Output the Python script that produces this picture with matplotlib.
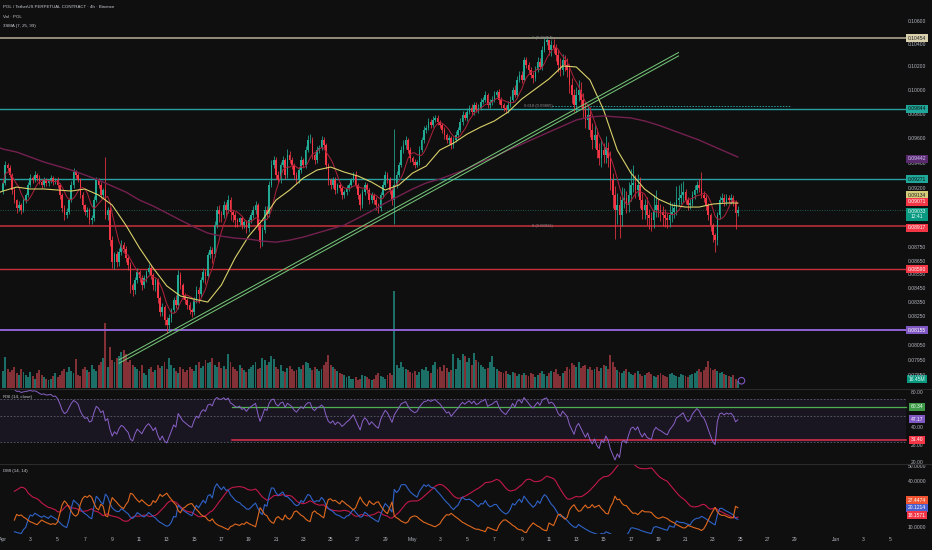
import numpy as np
import pandas as pd
import matplotlib
matplotlib.use("Agg")
import matplotlib.pyplot as plt
from matplotlib.transforms import blended_transform_factory as blend
from matplotlib.ticker import NullLocator

# ---------------- data (prices in 1e-5 USDT, 4h candles from Apr 1 00:00) ----------------
first_open = 9180
closes = [
    9242, 9385, 9361, 9306, 9188, 9110, 9048, 9071, 9033, 9110,
    9149, 9227, 9282, 9266, 9306, 9282, 9250, 9227, 9266, 9243,
    9258, 9282, 9250, 9266, 9227, 9149, 9048, 8994, 9018, 9110,
    9227, 9329, 9306, 9266, 9149, 9071, 9018, 9033, 8956, 8971,
    9110, 9266, 9227, 9149, 9188, 8994, 9033, 8805, 8643, 8700,
    8643, 8720, 8768, 8740, 8673, 8621, 8476, 8440, 8512, 8570,
    8526, 8476, 8526, 8570, 8599, 8548, 8476, 8510, 8380, 8283,
    8320, 8227, 8193, 8240, 8297, 8368, 8330, 8548, 8476, 8404,
    8368, 8332, 8297, 8283, 8368, 8440, 8410, 8512, 8570, 8540,
    8695, 8732, 8700, 8918, 9033, 9000, 8994, 9071, 9033, 9110,
    9018, 8994, 8956, 8941, 8971, 8918, 8941, 8896, 8956, 8994,
    9033, 9071, 8918, 8790, 8881, 9033, 9000, 9227, 9385, 9425,
    9306, 9266, 9385, 9425, 9306, 9465, 9425, 9385, 9306, 9266,
    9345, 9425, 9385, 9505, 9586, 9586, 9465, 9425, 9505, 9521,
    9586, 9545, 9385, 9266, 9227, 9266, 9188, 9227, 9204, 9149,
    9172, 9204, 9227, 9266, 9306, 9227, 9149, 9071, 9172, 9227,
    9188, 9110, 9149, 9110, 9071, 9048, 9149, 9227, 9306, 9266,
    9188, 9110, 9227, 9306, 9385, 9505, 9545, 9586, 9505, 9441,
    9409, 9385, 9409, 9505, 9586, 9668, 9684, 9734, 9709, 9751,
    9768, 9734, 9709, 9668, 9627, 9586, 9602, 9545, 9586, 9627,
    9668, 9734, 9792, 9768, 9817, 9851, 9817, 9876, 9834, 9851,
    9901, 9918, 9960, 9876, 9901, 9918, 9960, 9985, 9918, 9876,
    9851, 9834, 9876, 9918, 10002, 9960, 10088, 10131, 10088, 10261,
    10217, 10174, 10131, 10105, 10174, 10244, 10200, 10348, 10418, 10436,
    10348, 10392, 10365, 10304, 10217, 10174, 10261, 10217, 10174, 10045,
    9960, 9876, 9960, 10002, 9918, 9834, 9751, 9792, 9668, 9586,
    9627, 9505, 9441, 9505, 9465, 9521, 9441, 9266, 9149, 9033,
    9071, 8994, 9110, 9126, 9071, 9149, 9227, 9243, 9188, 9227,
    9110, 9033, 9071, 8994, 8971, 8956, 9033, 9071, 9033, 9018,
    8994, 8971, 8956, 8994, 9018, 9048, 9110, 9126, 9149, 9172,
    9110, 9071, 9087, 9149, 9188, 9227, 9204, 9149, 9126, 9071,
    8994, 8918, 8843, 8805, 8994, 9110, 9126, 9095, 9126, 9110,
    9126, 9087, 9010, 9033,
]
hi_wick = [
    20, 35, 18, 25, 15, 22, 12, 30, 18, 25,
    15, 20, 28, 14, 30, 18, 22, 15, 25, 20,
    18, 25, 15, 20, 22, 12, 18, 25, 30, 15,
    28, 35, 20, 15, 18, 25, 12, 20, 15, 22,
    30, 25, 18, 20, 15, 261, 25, 20, 30, 18,
    22, 30, 40, 25, 18, 15, 20, 12, 25, 30,
    18, 22, 25, 15, 30, 20, 12, 18, 15, 20,
    25, 15, 20, 30, 18, 25, 35, 40, 20, 15,
    18, 12, 20, 15, 25, 30, 18, 22, 28, 20,
    25, 30, 20, 35, 28, 40, 22, 30, 25, 38,
    20, 15, 22, 18, 12, 20, 15, 18, 25, 22,
    30, 35, 20, 15, 25, 30, 28, 35, 40, 30,
    22, 30, 25, 35, 20, 45, 30, 25, 18, 22,
    25, 30, 20, 35, 40, 50, 22, 18, 30, 25,
    35, 28, 20, 15, 18, 22, 25, 15, 20, 12,
    18, 22, 15, 20, 25, 30, 15, 12, 20, 25,
    15, 18, 22, 12, 20, 15, 25, 30, 28, 20,
    22, 18, 449, 30, 25, 35, 40, 30, 20, 25,
    18, 22, 15, 30, 28, 35, 25, 30, 22, 35,
    28, 25, 20, 18, 22, 15, 25, 20, 28, 30,
    25, 30, 35, 28, 30, 22, 35, 25, 28, 30,
    30, 25, 38, 20, 28, 35, 30, 17, 22, 25,
    20, 25, 30, 35, 28, 40, 30, 35, 38, 30,
    25, 30, 22, 28, 35, 40, 30, 35, 36, 18,
    0, 45, 50, 40, 55, 60, 50, 45, 60, 50,
    60, 55, 70, 90, 65, 55, 60, 90, 65, 55,
    85, 60, 55, 90, 60, 95, 50, 60, 55, 70,
    90, 70, 100, 80, 55, 100, 130, 140, 65, 90,
    60, 55, 50, 65, 45, 50, 120, 120, 50, 45,
    45, 50, 40, 110, 70, 45, 110, 100, 90, 90,
    25, 20, 30, 35, 40, 28, 45, 126, 30, 22,
    20, 15, 18, 12, 25, 30, 35, 28, 30, 25,
    28, 20, 25, 30,
]
lo_wick = [
    25, 15, 20, 18, 30, 22, 35, 20, 28, 15,
    20, 18, 15, 25, 12, 20, 18, 22, 15, 25,
    20, 15, 22, 18, 25, 30, 28, 35, 20, 18,
    15, 20, 25, 18, 22, 30, 25, 35, 28, 30,
    18, 15, 20, 25, 22, 30, 35, 40, 45, 50,
    35, 30, 25, 20, 28, 40, 60, 45, 30, 25,
    28, 35, 20, 25, 18, 30, 35, 40, 30, 25,
    30, 35, 53, 40, 25, 20, 18, 22, 28, 30,
    25, 30, 28, 35, 20, 18, 60, 22, 18, 60,
    15, 20, 65, 22, 25, 60, 55, 25, 50, 22,
    60, 55, 50, 35, 22, 30, 25, 40, 28, 20,
    22, 28, 35, 44, 30, 25, 18, 20, 15, 22,
    30, 25, 20, 18, 28, 22, 25, 30, 35, 25,
    20, 25, 18, 22, 15, 20, 30, 28, 22, 25,
    18, 25, 30, 35, 28, 25, 30, 22, 25, 28,
    22, 25, 20, 18, 15, 25, 30, 35, 22, 20,
    25, 28, 22, 30, 35, 38, 22, 18, 15, 25,
    30, 40, 181, 20, 18, 15, 22, 30, 25, 28,
    25, 20, 18, 22, 15, 20, 25, 18, 22, 20,
    18, 25, 22, 28, 30, 25, 35, 30, 22, 18,
    20, 15, 22, 18, 25, 20, 28, 22, 18, 25,
    15, 20, 18, 25, 22, 28, 20, 18, 30, 25,
    28, 22, 25, 18, 20, 15, 22, 18, 25, 20,
    30, 35, 28, 40, 25, 20, 18, 22, 15, 25,
    45, 50, 40, 55, 60, 50, 45, 55, 60, 65,
    70, 60, 55, 50, 60, 65, 70, 75, 60, 70,
    65, 60, 55, 70, 60, 65, 70, 80, 100, 223,
    110, 174, 80, 65, 60, 55, 50, 55, 60, 50,
    60, 65, 70, 75, 80, 85, 60, 55, 50, 65,
    85, 70, 60, 55, 50, 45, 50, 45, 50, 55,
    30, 35, 28, 25, 30, 22, 28, 25, 30, 35,
    40, 45, 50, 88, 35, 30, 25, 28, 22, 25,
    30, 25, 121, 20,
]
volume_m = [
    40, 73, 45, 38, 42, 50, 35, 30, 44, 38,
    30, 25, 38, 28, 22, 35, 42, 30, 26, 20,
    18, 22, 28, 35, 25, 30, 40, 45, 38, 50,
    40, 35, 68, 30, 28, 45, 50, 42, 38, 55,
    45, 40, 55, 60, 70, 153, 50, 96, 65, 60,
    70, 75, 85, 90, 80, 60, 65, 55, 50, 45,
    40, 55, 35, 30, 45, 50, 38, 42, 55, 48,
    52, 60, 45, 70, 55, 48, 40, 35, 50, 45,
    38, 42, 50, 45, 40, 55, 60, 48, 52, 65,
    58, 62, 70, 55, 50, 60, 48, 52, 45, 80,
    60, 50, 45, 40, 55, 48, 42, 38, 45, 50,
    55, 60, 45, 48, 70, 65, 55, 60, 75, 68,
    50, 45, 55, 40, 38, 48, 52, 45, 40, 42,
    50, 45, 55, 60, 58, 48, 42, 50, 45, 40,
    45, 55, 60, 78, 55, 50, 45, 40, 35, 32,
    30, 25, 28, 22, 20, 25, 18, 22, 30, 28,
    25, 20, 18, 22, 30, 35, 28, 25, 20, 30,
    35, 30, 228, 55, 48, 60, 50, 45, 42, 38,
    35, 40, 30, 38, 45, 42, 50, 40, 35, 55,
    60, 45, 50, 40, 55, 48, 38, 42, 80, 45,
    70, 65, 80, 75, 60, 70, 55, 82, 65, 60,
    55, 50, 45, 48, 60, 75, 50, 45, 40, 38,
    35, 40, 32, 30, 38, 35, 28, 32, 30, 35,
    30, 28, 35, 32, 25, 30, 35, 40, 32, 28,
    35, 40, 38, 45, 32, 28, 35, 40, 50, 45,
    58, 55, 50, 60, 48, 52, 55, 45, 50, 42,
    45, 50, 40, 48, 55, 52, 45, 78, 60, 50,
    42, 38, 35, 40, 45, 38, 32, 30, 35, 40,
    32, 28, 30, 35, 38, 32, 28, 25, 30, 35,
    30, 28, 25, 32, 35, 30, 28, 25, 32, 30,
    28, 25, 30, 32, 35, 40, 45, 38, 42, 50,
    63, 48, 42, 45, 40, 35, 38, 32, 30, 28,
    25, 30, 22, 16.45,
]
# SMA 25 / SMA 99, one point per day (days since Apr 1)
sma_days = [-0.2] + list(range(0, 54)) + [53.83]
sma25 = [9172,
         9180, 9211, 9196, 9196, 9188, 9180, 9196, 9149, 9071, 8918,
         8747, 8599, 8469, 8397, 8375, 8354, 8476, 8673, 8835, 8956,
         9110, 9188, 9282, 9345, 9369, 9329, 9298, 9250, 9188, 9227,
         9321, 9377, 9505, 9561, 9635, 9693, 9743, 9817, 9926, 10011,
         10097, 10209, 10200, 10088, 9834, 9505, 9321, 9196, 9118, 9071,
         9056, 9056, 9079, 9087,
         9087]
sma99 = [9521,
         9513, 9489, 9449, 9409, 9377, 9345, 9306, 9266, 9219, 9172,
         9110, 9064, 9010, 8956, 8904, 8858, 8835, 8820, 8813, 8798,
         8790, 8805, 8828, 8858, 8888, 8918, 8971, 9025, 9087, 9141,
         9196, 9243, 9274, 9314, 9353, 9409, 9449, 9505, 9553, 9602,
         9652, 9701, 9751, 9776, 9784, 9776, 9768, 9743, 9709, 9668,
         9627, 9586, 9537, 9489,
         9449]
# horizontal levels and drawings
level_prices = [0.10454, 0.09844, 0.09271, 0.08915, 0.08590, 0.08155]
fib_levels = [("1 (0.10454)", 0.10454), ("0.618 (0.09865)", 0.09865), ("0 (0.08912)", 0.08912)]
trend_days = [8.47, 49.52]
trend_prices = [0.07941, 0.10313]
rsi_hlines = [60.34, 31.40]
price_ticks = [0.106, 0.104, 0.102, 0.100, 0.098, 0.096, 0.094, 0.092,
               0.0875, 0.0865, 0.0855, 0.0845, 0.0835, 0.0825, 0.0805, 0.0795, 0.0785]
time_tick_days = list(range(0, 29, 2)) + list(range(30, 59, 2)) + [61, 63, 65]
time_tick_labels = ["Apr", "3", "5", "7", "9", "11", "13", "15", "17", "19", "21", "23", "25", "27", "29",
                    "May", "3", "5", "7", "9", "11", "13", "15", "17", "19", "21", "23", "25", "27", "29",
                    "Jun", "3", "5"]

assert len(closes) == len(hi_wick) == len(lo_wick) == len(volume_m) == 324
assert len(sma25) == len(sma99) == len(sma_days)

# ---------------- style ----------------
W, H = 932, 550
BG = "#0f0f0f"
UP, DN = "#22ab94", "#f23645"
VUP, VDN = "#1c6f66", "#833036"
TXT = "#b2b5be"
FONT = "Liberation Sans"
plt.rcParams["font.family"] = [FONT, "DejaVu Sans"]

def px2day(px):
    return (px - 3) / 13.65

XL = (px2day(0), px2day(W))
XR = px2day(906)

fig = plt.figure(figsize=(W / 100, H / 100), dpi=100, facecolor=BG)

def rect(top, bottom):
    return [0, 1 - bottom / H, 1, (bottom - top) / H]

# ---------------- series ----------------
n = len(closes)
xs = np.arange(n) / 6.0
c = np.array(closes, float) / 1e5
o = np.array([first_open] + closes[:-1], float) / 1e5
hi = np.maximum(o, c) + np.array(hi_wick) / 1e5
lo = np.minimum(o, c) - np.array(lo_wick) / 1e5
isup = c >= o
cols = np.where(isup, UP, DN)
vcols = np.where(isup, VUP, VDN)
sma7 = pd.Series(c).rolling(7, min_periods=1).mean()

# ---------------- volume (behind price) ----------------
axv = fig.add_axes(rect(0, 388))
axv.set_facecolor(BG)
axv.bar(xs, volume_m, width=0.14, color=vcols, linewidth=0)
axv.scatter([54.1], [17], s=22, facecolor="none", edgecolor="#7e57c2", linewidth=0.8, zorder=5)
axv.set_xlim(*XL)
axv.set_ylim(0, 912)
axv.axis("off")

# ---------------- price pane ----------------
ax = fig.add_axes(rect(0, 388))
ax.set_facecolor("none")
ax.set_yscale("log")
ax.set_xlim(*XL)
ax.set_ylim(0.07766, 0.10797)
for s in ax.spines.values():
    s.set_visible(False)
ax.set_xticks([])
ax.yaxis.set_major_locator(NullLocator())
ax.yaxis.set_minor_locator(NullLocator())

lvl_cols = ["#a9a38c", "#2a9fa0", "#2a9fa0", "#c8303c", "#c8303c", "#8f63d6"]
lvl_lw = [1.2, 1.0, 1.0, 1.1, 1.0, 1.4]
for p, col, lw in zip(level_prices, lvl_cols, lvl_lw):
    ax.plot([XL[0], XR], [p, p], color=col, lw=lw, zorder=1)
# current price line
ax.plot([XL[0], XR], [c[-1], c[-1]], color="#1d5a52", lw=0.7, ls=(0, (1, 1.5)), zorder=1)
# fib 0.618 dotted
ax.plot([px2day(552), px2day(790)], [fib_levels[1][1]] * 2, color="#2a9fa0", lw=0.7, ls=(0, (1.5, 1.5)), zorder=1)
for txt, p in fib_levels:
    ax.text(px2day(553), p, txt, ha="right", va="center", fontsize=3.0, color="#8a8a8a", zorder=6)

ax.vlines(xs, lo, hi, colors=cols, lw=0.55, zorder=2)
ax.bar(xs, np.maximum(np.abs(c - o), 0.00002), bottom=np.minimum(o, c), width=0.12,
       color=cols, linewidth=0, zorder=2)

ax.plot(xs, sma7, color="#a8213a", lw=0.75, zorder=3)
ax.plot(sma_days, np.array(sma25) / 1e5, color="#d9d06a", lw=0.8, zorder=3)
ax.plot(sma_days, np.array(sma99) / 1e5, color="#74204f", lw=1.0, zorder=3)

for off in (-1.7, 1.7):
    f = np.exp(off / 1177)
    ax.plot(trend_days, np.array(trend_prices) * f, color="#72c276", lw=0.75, zorder=4,
            solid_capstyle="butt")

tr_main = blend(ax.transAxes, ax.transData)
LX = 917 / W
for p in price_ticks:
    ax.text(LX, p, f"{p:.5f}", transform=tr_main, ha="center", va="center", fontsize=3.6,
            color=TXT, zorder=5, clip_on=False)

def plabel(a, tr, y, txt, bg, fg="#ffffff"):
    a.text(LX, y, txt, transform=tr, ha="center", va="center", fontsize=3.6, color=fg,
           zorder=20, clip_on=False, linespacing=1.0,
           bbox=dict(boxstyle="square,pad=0.3", fc=bg, ec="none"))

plabel(ax, tr_main, 0.10454, "0.10454", "#d8d0ad", "#222222")
plabel(ax, tr_main, 0.09844, "0.09844", "#1fa79a", "#0f0f0f")
plabel(ax, tr_main, 0.09435, "0.09442", "#5a2a6e", "#d8c8ff")
plabel(ax, tr_main, 0.09271, "0.09271", "#1fa79a", "#0f0f0f")
plabel(ax, tr_main, 0.09149, "0.09134", "#d4cc78", "#222222")
plabel(ax, tr_main, 0.09097, "0.09071", "#f23645", "#ffffff")
plabel(ax, tr_main, 0.09000, "0.09033\n12:41", "#089981", "#e8fff8")
plabel(ax, tr_main, 0.08900, "0.08917", "#f23645", "#ffffff")
plabel(ax, tr_main, 0.08590, "0.08590", "#f23645", "#ffffff")
plabel(ax, tr_main, 0.08155, "0.08155", "#7e57c2", "#ffffff")
plabel(axv, blend(axv.transAxes, axv.transData), 16.45 + 4, "16.45M", "#089981", "#e8fff8")

# ---------------- RSI pane ----------------
delta = pd.Series(c).diff()
rma = lambda s, mp=6: pd.Series(s).ewm(alpha=1 / 14, adjust=False, min_periods=mp).mean()
ag = rma(delta.clip(lower=0), 3)
al = rma((-delta).clip(lower=0), 3)
rsi = 100 - 100 / (1 + ag / al)

axr = fig.add_axes(rect(390, 463))
axr.set_facecolor(BG)
axr.set_yscale("log")
axr.set_xlim(*XL)
axr.set_ylim(19.72, 84.5)
for s in axr.spines.values():
    s.set_visible(False)
axr.set_xticks([])
axr.yaxis.set_major_locator(NullLocator())
axr.yaxis.set_minor_locator(NullLocator())
axr.fill_between([XL[0], XR], 30, 70, color="#7e57c2", alpha=0.10, lw=0)
for lv in (70, 50, 30):
    axr.plot([XL[0], XR], [lv, lv], color="#5d6070", lw=0.6, ls=(0, (2, 2)))
axr.plot([px2day(232), XR], [rsi_hlines[0]] * 2, color="#4caf50", lw=0.9)
axr.plot([px2day(232), XR], [rsi_hlines[1]] * 2, color="#e0304a", lw=1.1)
axr.plot(xs, rsi, color="#8a62c9", lw=0.7)
tr_r = blend(axr.transAxes, axr.transData)
for v in (80, 40, 28, 20):
    axr.text(LX, v, f"{v:.2f}", transform=tr_r, ha="center", va="center", fontsize=3.6,
             color=TXT, clip_on=False, zorder=5)
plabel(axr, tr_r, 60.34, "60.34", "#3f9a4a", "#e8ffe8")
plabel(axr, tr_r, 47.17, "47.17", "#7e57c2", "#ffffff")
plabel(axr, tr_r, 31.40, "31.40", "#f23645", "#ffffff")

# ---------------- DMI pane ----------------
hs, ls_ = pd.Series(hi), pd.Series(lo)
upm = hs.diff()
dnm = -ls_.diff()
pdm = np.where((upm > dnm) & (upm > 0), upm, 0.0)
mdm = np.where((dnm > upm) & (dnm > 0), dnm, 0.0)
cs = pd.Series(c)
trng = pd.concat([hs - ls_, (hs - cs.shift()).abs(), (ls_ - cs.shift()).abs()], axis=1).max(axis=1)
atr = rma(trng)
pdi = 100 * rma(pdm) / atr
mdi = 100 * rma(mdm) / atr
dx = 100 * (pdi - mdi).abs() / (pdi + mdi)
adx = rma(dx, 1)

axd = fig.add_axes(rect(464, 534))
axd.set_facecolor(BG)
axd.set_xlim(*XL)
axd.set_ylim(5.9, 51.3)
for s in axd.spines.values():
    s.set_visible(False)
axd.yaxis.set_major_locator(NullLocator())
axd.plot(xs, adx, color="#c2184a", lw=0.8)
axd.plot(xs, pdi, color="#2f63c8", lw=0.8)
axd.plot(xs, mdi, color="#e0691f", lw=0.8)
tr_d = blend(axd.transAxes, axd.transData)
for v in (50, 40, 10):
    axd.text(LX, v, f"{v:.4f}", transform=tr_d, ha="center", va="center", fontsize=3.6,
             color=TXT, clip_on=False, zorder=5)
plabel(axd, tr_d, 27.9, "27.4474", "#f0532f", "#ffffff")
plabel(axd, tr_d, 22.9, "20.1214", "#4a5fd0", "#ffffff")
plabel(axd, tr_d, 18.2, "18.1571", "#f23645", "#ffffff")

axd.set_xticks(time_tick_days)
axd.set_xticklabels(time_tick_labels)
axd.tick_params(axis="x", length=0, pad=2.5, labelsize=3.6, labelcolor=TXT)

# ---------------- separators & titles ----------------
for yy in (389, 463.5):
    fig.add_artist(plt.Line2D([0, 1], [1 - yy / H, 1 - yy / H], color="#2b2b2b", lw=0.8))

def ftext(px, py, s, size=3.2, col="#c9ccd4"):
    fig.text(px / W, 1 - py / H, s, ha="left", va="center", fontsize=size, color=col)

ftext(3, 6.5, "POL / TetherUS PERPETUAL CONTRACT · 4h · Binance")
ftext(3, 16.5, "Vol · POL")
ftext(3, 26.5, "3SMA (7, 25, 99)")
ftext(3, 397, "RSI (14, close)")
ftext(3, 471, "DMI (14, 14)")

fig.savefig("out.png", dpi=100, facecolor=BG)
